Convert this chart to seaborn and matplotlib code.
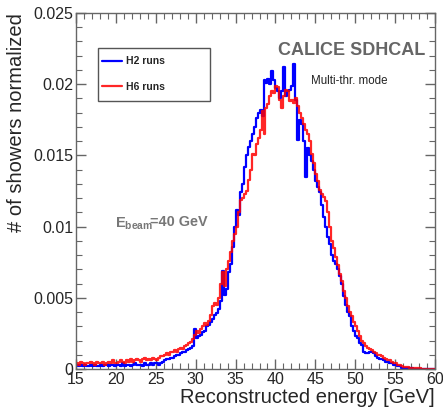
import numpy as np
import pandas as pd
import matplotlib
matplotlib.use("Agg")
import matplotlib.pyplot as plt
import seaborn as sns
from matplotlib.patches import Rectangle
from matplotlib.ticker import MultipleLocator, FuncFormatter

# histogram binning (GeV)
bin_low = 15.0
bin_width = 0.25

# bin contents, in units of 1e-4 (fraction of showers per bin), 4 bins per GeV
h2_runs = [
    3, 2, 3, 2,   3, 2, 2, 3,   2, 3, 2, 2,   3, 2, 3, 3,   2, 3, 3, 2,          # 15-19
    3, 3, 2, 4,   2, 3, 3, 2,   3, 4, 3, 3,   3, 2, 4, 3,   3, 4, 3, 4,          # 20-24
    4, 3, 4, 5,   6, 7, 7, 8,   8, 9, 10, 10,  11, 12, 12, 13,  14, 15, 16, 28,  # 25-29
    22, 23, 24, 26,  27, 30, 31, 33,  35, 38, 39, 42,  48, 69, 52, 56,  68, 74, 86, 100,  # 30-34
    112, 108, 124, 130,  142, 150, 156, 160,  165, 170, 176, 180,
    182, 178, 203, 201,  204, 200, 209, 203,                                       # 35-39
    197, 195, 190, 195,  212, 192, 195, 196,  199, 214, 189, 161,
    175, 172, 160, 135,  155, 150, 146, 140,                                       # 40-44
    132, 128, 124, 115,  107, 100, 93, 88,  80, 76, 74, 70,  65, 60, 51, 45,
    40, 37, 30, 27,                                                                # 45-49
    23, 22, 18, 17,  12, 11, 11, 12,  12, 11, 9, 8,  7, 7, 6, 5,  5, 4, 4, 3,      # 50-54
    3, 2, 2, 1,  1, 1, 1, 0.5,  0.5, 0.3, 0.3, 0.2,  0.2, 0.1, 0.1, 0.1,  0.1, 0.1, 0, 0,  # 55-59
]

h6_runs = [
    4, 3, 5, 4,   3, 4, 4, 5,   4, 3, 5, 4,   4, 5, 3, 4,   5, 4, 6, 4,          # 15-19
    4, 5, 6, 5,   4, 6, 5, 7,   5, 6, 7, 6,   5, 7, 8, 6,   7, 6, 8, 7,          # 20-24
    6, 8, 9, 9,   10, 11, 10, 12,  12, 13, 12, 14,  15, 14, 16, 17,  18, 19, 21, 24,  # 25-29
    27, 25, 28, 30,  32, 31, 34, 38,  44, 46, 45, 50,  60, 68, 58, 70,  76, 82, 90, 95,  # 30-34
    100, 110, 119, 120,  123, 125, 133, 140,  151, 150, 158, 162,
    168, 181, 165, 183,  186, 192, 195, 194,                                       # 35-39
    199, 198, 189, 183,  192, 196, 195, 188,  189, 187, 190, 185,
    180, 176, 172, 168,  165, 160, 151, 145,                                       # 40-44
    137, 132, 126, 123,  121, 118, 110, 100,  90, 85, 79, 73,  67, 62, 55, 50,
    44, 40, 37, 33,                                                                # 45-49
    30, 27, 23, 20,  18, 16, 15, 14,  13, 12, 11, 10,  10, 9, 8, 7,  6, 6, 5, 4,   # 50-54
    4, 3, 3, 2,  1.6, 1.4, 1.2, 1,  1, 0.8, 0.6, 0.5,  0.4, 0.3, 0.3, 0.3,  0.3, 0.3, 0.2, 0.3,  # 55-59
]

labels = ["H2 runs", "H6 runs"]
colors = ["#0000ff", "#ff0000"]

edges = bin_low + bin_width * np.arange(len(h2_runs) + 1)
centers = edges[:-1] + bin_width / 2

df = pd.concat([
    pd.DataFrame({"energy": centers, "frac": np.array(h2_runs) * 1e-4, "run": labels[0]}),
    pd.DataFrame({"energy": centers, "frac": np.array(h6_runs) * 1e-4, "run": labels[1]}),
])

sns.set_style("ticks")
plt.rcParams["font.family"] = ["Liberation Sans", "DejaVu Sans"]
plt.rcParams["mathtext.fontset"] = "custom"
plt.rcParams["mathtext.rm"] = "Liberation Sans"
plt.rcParams["mathtext.bf"] = "Liberation Sans:bold"

fig = plt.figure(figsize=(4.43, 4.12), dpi=100)
ax = fig.add_axes([0.1716, 0.1044, 0.8104, 0.864])

for lab, col, alpha in zip(labels, colors, [1.0, 0.85]):
    sns.histplot(data=df[df["run"] == lab], x="energy", weights="frac", bins=list(edges),
                 element="step", fill=False, color=col, linewidth=1.6, alpha=alpha,
                 ax=ax, label=lab)

ax.set_xlim(15, 60)
ax.set_ylim(0, 0.025)
ax.xaxis.set_major_locator(MultipleLocator(5))
ax.xaxis.set_minor_locator(MultipleLocator(1))
ax.yaxis.set_major_locator(MultipleLocator(0.005))
ax.yaxis.set_minor_locator(MultipleLocator(0.001))
ax.yaxis.set_major_formatter(FuncFormatter(lambda v, p: f"{v:g}"))
ax.tick_params(which="both", direction="in", top=True, right=True, color="#666666",
               labelsize=11.5, pad=2)
ax.tick_params(which="major", length=7, width=1)
ax.tick_params(which="minor", length=4, width=0.8)
for s in ax.spines.values():
    s.set_color("#666666")
    s.set_linewidth(1)

ax.set_xlabel("Reconstructed energy [GeV]", loc="right", fontsize=14.5, labelpad=1)
ax.set_ylabel("# of showers normalized", loc="top", fontsize=14.5, labelpad=5)

# legend box drawn as in ROOT: plain frame, entries on the left
ax.add_patch(Rectangle((0.0613, 0.753), 0.312, 0.149, transform=ax.transAxes,
                       facecolor="white", edgecolor="#555555", linewidth=1, zorder=4))
leg = ax.legend(loc="upper left", bbox_to_anchor=(0.0724, 0.878), frameon=False,
                prop={"weight": "bold", "size": 7.5}, handlelength=1.9,
                labelspacing=1.5, borderpad=0, handletextpad=0.4, borderaxespad=0)
leg.set_zorder(5)

ax.text(0.972, 0.895, "CALICE SDHCAL", transform=ax.transAxes, ha="right", va="center",
        fontsize=13, fontweight="bold", color="#666666")
ax.text(0.655, 0.809, "Multi-thr. mode", transform=ax.transAxes, ha="left", va="center",
        fontsize=8.3, color="#222222")
ax.text(0.108, 0.408, r"$\mathbf{E_{beam}}$", transform=ax.transAxes, ha="left",
        va="center", fontsize=10.5, color="#777777")
ax.text(0.206, 0.412, "=40 GeV", transform=ax.transAxes, ha="left", va="center",
        fontsize=10.4, fontweight="bold", color="#777777")

fig.savefig("out.png", dpi=100)
